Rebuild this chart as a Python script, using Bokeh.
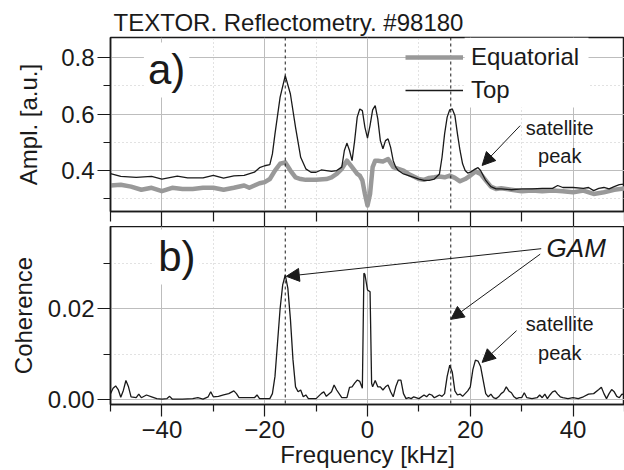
from bokeh.plotting import figure
from bokeh.layouts import column
from bokeh.models import (Span, Label, Arrow, NormalHead, Legend, LegendItem,
                          FixedTicker, PrintfTickFormatter, BoxAnnotation, Range1d)
from bokeh.embed import file_html
from bokeh.resources import INLINE

FONT = "Liberation Sans"

# ---------------- data ----------------
title_text = "TEXTOR. Reflectometry. #98180"

top_freq = [-50, -48, -45, -42, -40, -37, -35, -32, -30, -28, -26, -24, -22, -21, -20, -19, -18.5, -18,
            -17, -16, -15, -14, -13, -12, -11, -10, -9, -8, -7, -6, -5, -4.5, -4, -3.5, -3, -2.5, -2,
            -1.5, -1, -0.5, 0, 0.5, 1, 1.5, 2, 2.5, 3, 3.5, 4, 4.5, 5, 5.5, 6, 7, 8, 9, 10, 11, 12, 13,
            14, 14.5, 15, 15.5, 16, 16.5, 17, 17.5, 18, 18.5, 19, 19.5, 20, 21, 21.5, 22, 23, 24, 25, 26,
            28, 30, 32, 34, 36, 37, 38, 40, 42, 43, 44, 45, 46, 47, 48, 49, 50]
top_ampl = [0.389, 0.379, 0.376, 0.379, 0.370, 0.380, 0.374, 0.374, 0.383, 0.373, 0.381, 0.383, 0.394,
            0.410, 0.417, 0.421, 0.459, 0.530, 0.660, 0.736, 0.671, 0.553, 0.447, 0.406, 0.394, 0.394,
            0.402, 0.400, 0.397, 0.400, 0.412, 0.471, 0.497, 0.471, 0.435, 0.506, 0.589, 0.618, 0.612,
            0.553, 0.515, 0.560, 0.615, 0.630, 0.583, 0.506, 0.477, 0.506, 0.512, 0.482, 0.435, 0.412,
            0.400, 0.388, 0.382, 0.376, 0.370, 0.365, 0.365, 0.370, 0.388, 0.447, 0.530, 0.589, 0.615,
            0.618, 0.595, 0.530, 0.471, 0.424, 0.400, 0.391, 0.394, 0.406, 0.410, 0.400, 0.365, 0.343,
            0.335, 0.335, 0.332, 0.335, 0.335, 0.337, 0.337, 0.347, 0.340, 0.340, 0.337, 0.340, 0.329,
            0.337, 0.340, 0.335, 0.343, 0.350, 0.352]

eq_freq = [-50, -48, -46, -44, -42, -40, -38, -36, -34, -32, -30, -28, -26, -24, -23, -22, -21, -20, -19,
           -18, -17, -16, -15, -14, -13, -12, -10, -8, -7, -6, -5, -4, -3, -2, -1.5, -1, -0.5, 0, 0.5, 1,
           1.5, 2, 3, 4, 5, 6, 7, 8, 9, 10, 11, 12, 13, 14, 15, 16, 17, 18, 19, 20, 21, 22, 23, 24, 25,
           26, 28, 30, 32, 34, 36, 38, 40, 42, 44, 46, 48, 50]
eq_ampl = [0.347, 0.350, 0.343, 0.332, 0.339, 0.327, 0.339, 0.335, 0.335, 0.339, 0.339, 0.332, 0.339,
           0.347, 0.339, 0.347, 0.355, 0.359, 0.370, 0.400, 0.424, 0.429, 0.400, 0.376, 0.370, 0.367,
           0.367, 0.370, 0.376, 0.388, 0.406, 0.435, 0.412, 0.388, 0.382, 0.365, 0.317, 0.276, 0.317,
           0.412, 0.435, 0.435, 0.432, 0.441, 0.412, 0.406, 0.400, 0.388, 0.379, 0.370, 0.367, 0.374,
           0.376, 0.379, 0.376, 0.382, 0.374, 0.362, 0.370, 0.382, 0.397, 0.388, 0.365, 0.343, 0.335,
           0.337, 0.332, 0.327, 0.329, 0.327, 0.329, 0.327, 0.323, 0.329, 0.317, 0.323, 0.332, 0.337]

coh_freq = [-50, -49.5, -49, -48.5, -48, -47.5, -47, -46.5, -46, -45, -44.5, -44, -43, -42, -41, -40, -39,
            -38.5, -38, -36, -34, -33, -32, -31, -30.5, -30, -29, -28, -27, -26, -25.5, -25, -24, -22,
            -21.5, -21, -20, -19, -18.5, -18, -17.5, -17, -16.5, -16, -15.5, -15, -14.5, -14, -13.5, -13,
            -12.5, -12, -11.5, -10, -9, -8.5, -8, -7, -6.5, -6, -5, -4, -3.5, -3, -2.5, -2, -1.5, -1,
            -0.7, -0.5, 0, 0.5, 0.8, 1, 1.5, 2, 2.5, 3, 3.5, 4, 4.5, 5, 5.5, 6, 6.5, 7, 7.5, 8, 8.5, 9,
            10, 11, 11.5, 12, 12.5, 13, 13.5, 14, 14.5, 15, 15.5, 16, 16.5, 17, 17.5, 18, 18.5, 19, 19.5,
            20, 20.5, 21, 21.5, 22, 22.5, 23, 23.5, 24, 24.5, 25, 25.5, 26, 26.5, 27, 27.5, 28, 28.5, 29,
            29.5, 30, 30.5, 31, 32, 33, 33.5, 34, 34.5, 35, 35.5, 36, 36.5, 37, 37.5, 38, 39, 40, 41, 42,
            43, 44, 45, 45.5, 46, 46.5, 47, 47.5, 48, 48.5, 49, 49.5, 50]
coh_value = [0.0013, 0.0025, 0.0030, 0.0022, 0.0005, 0.0020, 0.0042, 0.0028, 0.0006, 0.0004, 0.0012,
             0.0004, 0.0010, 0.0006, 0.0002, 0.0001, 0.0002, 0.0007, 0.0001, 0.0001, 0.0002, 0.0004,
             0.0001, 0.0006, 0.0017, 0.0006, 0.0007, 0.0010, 0.0013, 0.0019, 0.0013, 0.0004, 0.0004,
             0.0004, 0.0010, 0.0002, 0.0002, 0.0002, 0.0013, 0.0051, 0.0126, 0.0201, 0.0253, 0.0275,
             0.0246, 0.0178, 0.0088, 0.0028, 0.0017, 0.0021, 0.0006, 0.0010, 0.0002, 0.0002, 0.0013,
             0.0017, 0.0007, 0.0017, 0.0032, 0.0021, 0.0004, 0.0004, 0.0027, 0.0028, 0.0036, 0.0043,
             0.0040, 0.0025, 0.0279, 0.0276, 0.0242, 0.0238, 0.0036, 0.0028, 0.0042, 0.0028, 0.0028,
             0.0021, 0.0028, 0.0032, 0.0017, 0.0006, 0.0028, 0.0043, 0.0043, 0.0013, 0.0002, 0.0004,
             0.0002, 0.0006, 0.0002, 0.0010, 0.0006, 0.0012, 0.0010, 0.0004, 0.0007, 0.0010, 0.0007,
             0.0013, 0.0051, 0.0076, 0.0060, 0.0019, 0.0010, 0.0012, 0.0007, 0.0013, 0.0019, 0.0028,
             0.0066, 0.0087, 0.0085, 0.0073, 0.0043, 0.0013, 0.0006, 0.0012, 0.0004, 0.0002, 0.0006,
             0.0013, 0.0017, 0.0028, 0.0019, 0.0015, 0.0006, 0.0002, 0.0004, 0.0004, 0.0015, 0.0004,
             0.0002, 0.0004, 0.0010, 0.0004, 0.0012, 0.0002, 0.0010, 0.0017, 0.0019, 0.0012, 0.0006,
             0.0004, 0.0002, 0.0004, 0.0002, 0.0006, 0.0012, 0.0013, 0.0022, 0.0027, 0.0013, 0.0002,
             0.0013, 0.0022, 0.0017, 0.0007, 0.0004, 0.0012, 0.0010]

gam_freqs = [-16.0, 16.2]          # dashed GAM markers
x_major = [-40, -20, 0, 20, 40]
x_minor = [-50, -30, -10, 10, 30, 50]
top_y_major = [0.4, 0.6, 0.8]
top_y_minor = [0.3, 0.5, 0.7]
bot_y_major = [0.00, 0.02]
bot_y_minor = [0.01, 0.03]

assert len(top_freq) == len(top_ampl)
assert len(eq_freq) == len(eq_ampl)
assert len(coh_freq) == len(coh_value)

DARK = "#1a1a1a"


def style(p, ymaj, ymin, fmt, ylabel, lab_standoff):
    p.outline_line_color = DARK
    p.outline_line_width = 1.5
    p.xaxis.ticker = FixedTicker(ticks=x_major, minor_ticks=x_minor)
    p.yaxis.ticker = FixedTicker(ticks=ymaj, minor_ticks=ymin)
    p.yaxis.formatter = PrintfTickFormatter(format=fmt)
    for g in (p.xgrid, p.ygrid):
        g.grid_line_color = "#bdbdbd"
        g.grid_line_width = 1
        g.minor_grid_line_color = "#c4c4c4"
        g.minor_grid_line_dash = "1 3"
        g.minor_grid_line_width = 1
    for ax in (p.xaxis, p.yaxis):
        ax.axis_line_color = DARK
        ax.axis_line_width = 1.5
        ax.major_tick_line_color = DARK
        ax.minor_tick_line_color = DARK
        ax.major_tick_line_width = 1.2
        ax.minor_tick_line_width = 1.2
        ax.major_tick_in = 0
        ax.minor_tick_in = 0
        ax.major_label_text_font = FONT
        ax.major_label_text_font_size = "24px"
        ax.major_label_text_color = DARK
        ax.axis_label_text_font = FONT
        ax.axis_label_text_font_size = "24px"
        ax.axis_label_text_font_style = "normal"
        ax.axis_label_text_color = DARK
    p.yaxis.major_tick_out = 13
    p.yaxis.minor_tick_out = 7
    p.yaxis.major_label_standoff = 3
    p.yaxis.axis_label = ylabel
    p.yaxis.axis_label_standoff = lab_standoff
    for fq in gam_freqs:
        p.add_layout(Span(location=fq, dimension="height", line_color=DARK,
                          line_dash="3 3", line_width=1))


# ---------------- top panel ----------------
p1 = figure(width=624, height=226, output_backend="svg", toolbar_location=None,
            x_range=Range1d(-50, 50), y_range=Range1d(0.255, 0.871),
            min_border_left=110, min_border_right=0, min_border_top=37, min_border_bottom=15)
style(p1, top_y_major, top_y_minor, "%.1f", "Ampl. [a.u.]", 16)
# ticks only on the upper panel's frequency axis (no labels)
p1.xaxis.major_label_overrides = {t: "" for t in x_major}
p1.xaxis.major_label_standoff = 0
p1.xaxis.major_tick_out = 15
p1.xaxis.minor_tick_out = 10

p1.title.text = title_text
p1.title.text_font = FONT
p1.title.text_font_size = "24px"
p1.title.text_font_style = "normal"
p1.title.text_color = DARK
p1.title.align = "left"
p1.title.offset = 3
p1.title.standoff = 3

# white box behind legend text
p1.add_layout(BoxAnnotation(left=18.9, right=43.0, bottom=0.623, top=0.871,
                            fill_color="white", fill_alpha=1, line_alpha=0))

r_eq = p1.line(eq_freq, eq_ampl, line_color="#999999", line_width=4.5, line_join="round")
r_top = p1.line(top_freq, top_ampl, line_color=DARK, line_width=1.3)

legend = Legend(items=[LegendItem(label="Equatorial", renderers=[r_eq]),
                       LegendItem(label="Top", renderers=[r_top])],
                location=(295, 107), padding=0, margin=0, spacing=5,
                glyph_width=58, glyph_height=26, label_height=26, label_standoff=8,
                label_text_font=FONT, label_text_font_size="24px", label_text_color=DARK,
                background_fill_alpha=0, border_line_alpha=0)
p1.add_layout(legend)

p1.add_layout(Label(x=-43.5, y=0.659, text="a)", text_font=FONT, text_font_size="42px",
                    text_color=DARK, background_fill_color="white", padding=4))
p1.add_layout(Label(x=37.4, y=0.549, text="satellite", text_font=FONT, text_font_size="20px",
                    text_align="center", text_baseline="middle", text_color=DARK))
p1.add_layout(Label(x=37.4, y=0.453, text="peak", text_font=FONT, text_font_size="20px",
                    text_align="center", text_baseline="middle", text_color=DARK))
p1.add_layout(Arrow(end=NormalHead(size=13, fill_color=DARK, line_color=DARK),
                    x_start=29.7, y_start=0.559, x_end=22.3, y_end=0.418,
                    line_color=DARK, line_width=1))

# ---------------- bottom panel ----------------
p2 = figure(width=624, height=244, output_backend="svg", toolbar_location=None,
            x_range=p1.x_range, y_range=Range1d(-0.0011, 0.0382),
            min_border_left=110, min_border_right=0, min_border_top=0, min_border_bottom=5)
style(p2, bot_y_major, bot_y_minor, "%.2f", "Coherence", 8)
p2.xaxis.major_tick_out = 12
p2.xaxis.minor_tick_out = 7
p2.xaxis.major_label_standoff = 4
p2.xaxis.axis_label = "Frequency [kHz]"
p2.xaxis.axis_label_standoff = 0

p2.line(coh_freq, coh_value, line_color=DARK, line_width=1.3)

p2.add_layout(Label(x=-41.5, y=0.0254, text="b)", text_font=FONT, text_font_size="42px",
                    text_color=DARK, background_fill_color="white", padding=4))
p2.add_layout(Label(x=40.6, y=0.0335, text="GAM", text_font=FONT, text_font_size="26px",
                    text_font_style="italic", text_align="center", text_baseline="middle",
                    text_color=DARK))
p2.add_layout(Label(x=37.4, y=0.0167, text="satellite", text_font=FONT, text_font_size="20px",
                    text_align="center", text_baseline="middle", text_color=DARK))
p2.add_layout(Label(x=37.4, y=0.0103, text="peak", text_font=FONT, text_font_size="20px",
                    text_align="center", text_baseline="middle", text_color=DARK))
for xs, ys, xe, ye in [(33.8, 0.0333, -15.8, 0.0272),
                       (33.6, 0.0321, 16.2, 0.0177),
                       (29.0, 0.0152, 22.3, 0.0082)]:
    p2.add_layout(Arrow(end=NormalHead(size=13, fill_color=DARK, line_color=DARK),
                        x_start=xs, y_start=ys, x_end=xe, y_end=ye,
                        line_color=DARK, line_width=1))

layout = column(p1, p2, spacing=0)
open("out.html", "w").write(file_html(layout, INLINE))
